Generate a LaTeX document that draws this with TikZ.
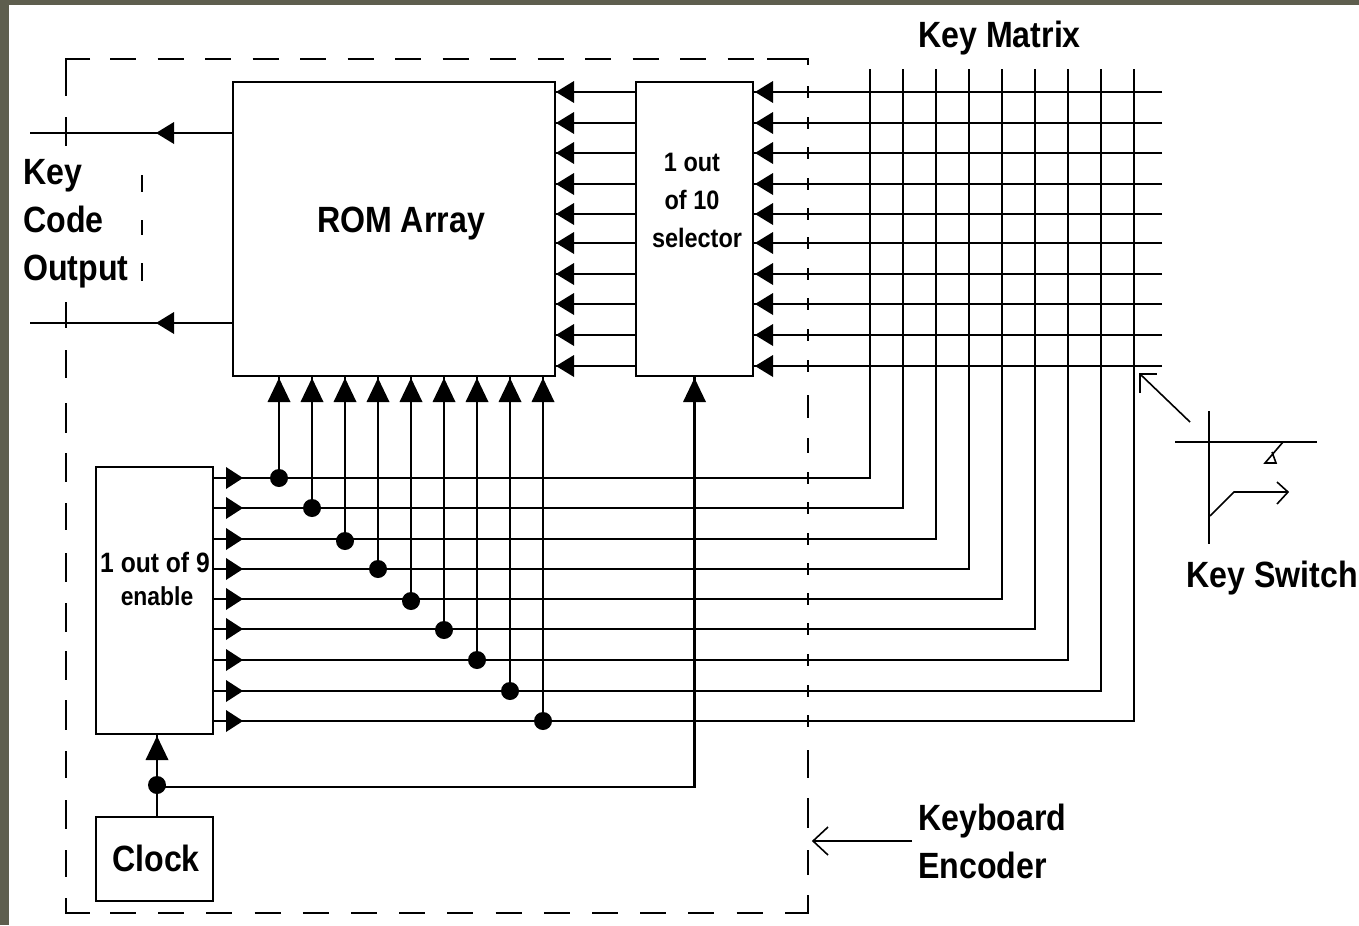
\documentclass[tikz,border=0pt]{standalone}
\usepackage{fontspec}
\setmainfont[FakeStretch=0.88]{Liberation Sans}
\definecolor{bgolive}{HTML}{5E5E4E}
\definecolor{ink}{HTML}{000000}
\tikzset{
  box/.style={draw=ink,line width=1.7pt,fill=white,inner sep=0pt,outer sep=0pt},
  wire/.style={draw=ink,line width=1.7pt},
  thin wire/.style={draw=ink,line width=1.4pt},
  dotnode/.style={circle,fill=ink,inner sep=0pt,outer sep=0pt,minimum size=13.5pt},
  big/.style={font=\bfseries\fontsize{27.4}{30}\selectfont,inner sep=0pt,anchor=base west,text=ink},
  small/.style={font=\bfseries\fontsize{19.5}{22}\selectfont,inner sep=0pt,anchor=base,text=ink},
  tipl/.pic={\fill[ink] (0,0)--(18,-11)--(18,11)--cycle;},
  tipr/.pic={\fill[ink] (17,0)--(0,-11)--(0,11)--cycle;},
  tipu/.pic={\fill[ink] (0,0)--(-11.5,24)--(11.5,24)--cycle;}
}
\begin{document}
\begin{tikzpicture}[x=0.75pt,y=-0.75pt]
\useasboundingbox (0,0) rectangle (1359,925);
\fill[bgolive] (0,0) rectangle (1359,925);
\fill[white] (9,5) rectangle (1359,925);

% dashed encoder outline, piece by piece as printed
\begin{scope}[thin wire,line width=1.5pt]
  \draw (90,59) -- (66,59) -- (66,96);
  \foreach \k in {0,...,13} \draw ({110+47.5*\k},59) -- ({136+47.5*\k},59);
  \draw (767,59) -- (808,59) -- (808,65);
  \foreach \a/\b in {117/146,302/328,350/378,403/433,453/482,503/530,553/582,603/632,651/680,700/730,751/778,800/829,850/877}
    \draw (66,\a) -- (66,\b);
  \draw (66,898) -- (66,913) -- (90,913);
  \foreach \k in {0,...,13} \draw ({110+48.2*\k},913) -- ({136+48.2*\k},913);
  \draw (785,913) -- (808,913) -- (808,895);
  \foreach \a/\b in {395/418,438/453,750/778,798/828,850/875}
    \draw (808,\a) -- (808,\b);
  \foreach \y in {92,123,153,184,214,243,274,304,335,366,478,508,539,569,599,629,660,691,721}
    \draw (808,\y-6) -- (808,\y+6);
  \foreach \a/\b in {175/192,220/235,263/281}
    \draw (142,\a) -- (142,\b);
\end{scope}

% blocks
\node[box,minimum width=241.5pt,minimum height=220.5pt] (rom) at (394,229) {};
\node[box,minimum width=87.75pt,minimum height=220.5pt] (sel) at (694.5,229) {};
\node[box,minimum width=87.75pt,minimum height=200.25pt] (enable) at (154.5,600.5) {};
\node[box,minimum width=87.75pt,minimum height=63pt] (clock) at (154.5,859) {};

% key matrix rows: from the free end through the selector to the ROM
\foreach \i/\y in {1/92,2/123,3/153,4/184,5/214,6/243,7/274,8/304,9/335,10/366}{
  \coordinate (row\i) at (1162,\y);
  \draw[wire] (row\i) -- (sel.east |- row\i);
  \draw[wire] (sel.west |- row\i) -- (rom.east |- row\i);
  \path (sel.east |- row\i) ++(2,0) pic {tipl};
  \path (rom.east |- row\i) ++(1,0) pic {tipl};
}

% key matrix columns: enable output, dot, up to ROM, round the corner to the top
\foreach \i/\x/\d/\y/\v in {1/870/279/478/478,2/903/312/508/508,3/936/345/539/541,4/969/378/569/569,5/1002/411/599/601,6/1035/444/629/630,7/1068/477/660/660,8/1101/510/691/691,9/1134/543/721/721}{
  \coordinate (top\i) at (\x,69);
  \coordinate (corner\i) at (\x,\y);
  \node[dotnode] (dot\i) at (\d,\v) {};
  \draw[wire] (enable.east |- corner\i) -- (corner\i) -- (top\i);
  \draw[wire] (dot\i) -- (dot\i |- rom.south);
  \path (dot\i |- rom.south) ++(0,2) pic {tipu};
  \path (enable.east |- corner\i) ++(13,0) pic {tipr};
}

% clock distribution
\node[dotnode] (clkdot) at (157,785) {};
\coordinate (clkbus) at (157,787);
\draw[wire] (clkdot |- clock.north) -- (clkdot |- enable.south);
\path (clkdot |- enable.south) ++(0,2) pic {tipu};
\draw[wire] (clkbus) -- (sel.south |- clkbus) -- (sel.south);
\path (sel.south) ++(0,2) pic {tipu};

% key code outputs
\coordinate (out1) at (30,133);
\coordinate (out2) at (30,323);
\draw[wire] (rom.west |- out1) -- (out1);
\draw[wire] (rom.west |- out2) -- (out2);
\path (156,133) pic {tipl};
\path (156,323) pic {tipl};

% key switch symbol
\coordinate (swT) at (1209,411);
\coordinate (swB) at (1209,544);
\coordinate (swL) at (1175,442);
\coordinate (swR) at (1317,442);
\draw[thin wire] (swT) -- (swB);
\draw[thin wire] (swL) -- (swR);
\draw[thin wire,line width=1.2pt] (1283,442) -- (1265,463) -- (1276,463) -- (1272,452);
\draw[thin wire,line width=1.2pt] (1210,516) -- (1234,492) -- (1288,492);
\draw[thin wire,line width=1.2pt] (1277,482) -- (1288,492) -- (1277,504);

% pointer to the crossing
\coordinate (ptrA) at (1190,422);
\coordinate (ptrB) at (1140,374);
\draw[thin wire,line width=1.2pt] (ptrA) -- (ptrB);
\draw[thin wire] (1140,393) -- (ptrB) -- (1157,374);

% pointer to the encoder outline
\coordinate (encA) at (912,841);
\coordinate (encB) at (813,841);
\draw[thin wire] (encA) -- (encB);
\draw[thin wire,line width=1.2pt] (828,827) -- (encB) -- (828,855);

% labels
\node[big,anchor=base] (lrom) at (401,232) {ROM Array};
\node[big] (lmatrix) at (918,47) {Key Matrix};
\node[big] (lkey) at (23,184) {Key};
\node[big] (lcode) at (23,232) {Code};
\node[big] (loutput) at (23,280) {Output};
\node[big] (lswitch) at (1186,587) {Key Switch};
\node[big] (lkb) at (918,830) {Keyboard};
\node[big] (lenc) at (918,878) {Encoder};
\node[big,anchor=base] (lclock) at (156,871) {Clock};
\node[small,font=\bfseries\fontsize{20}{22}\selectfont] (ls1) at (692,171) {1 out};
\node[small,font=\bfseries\fontsize{20}{22}\selectfont] (ls2) at (692,209) {of 10};
\node[small,font=\bfseries\fontsize{20}{22}\selectfont] (ls3) at (697,247) {selector};
\node[small,font=\bfseries\fontsize{21}{22}\selectfont] (le1) at (155,572) {1 out of 9};
\node[small] (le2) at (157,605) {enable};
\end{tikzpicture}
\end{document}
